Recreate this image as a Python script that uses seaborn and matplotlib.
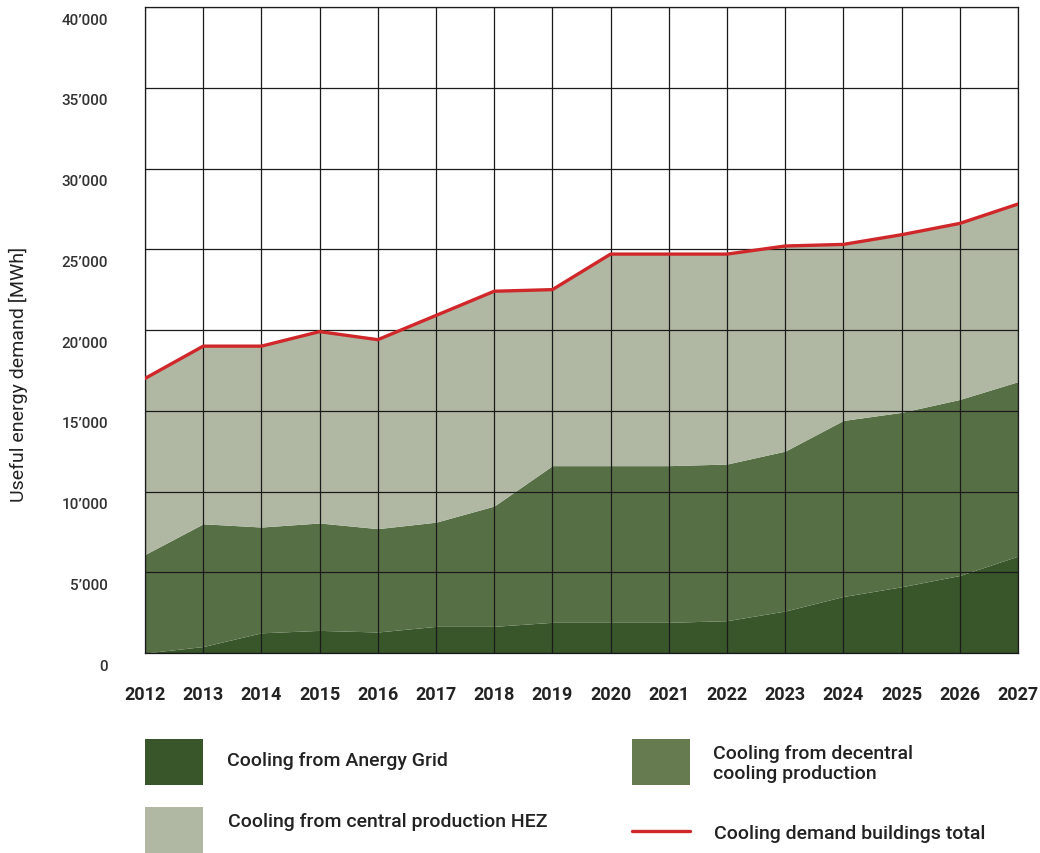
import matplotlib
matplotlib.use("Agg")
import matplotlib.pyplot as plt
from matplotlib.patches import Rectangle
from matplotlib.lines import Line2D
import matplotlib.transforms as mtransforms
import seaborn as sns
import pandas as pd

# data (MWh)
years = list(range(2012, 2028))
anergy = [0, 400, 1250, 1400, 1300, 1650, 1650, 1900, 1900, 1900, 2000, 2600, 3500, 4100, 4800, 6000]
decentral = [6100, 7600, 6550, 6650, 6400, 6450, 7450, 9700, 9700, 9700, 9700, 9900, 10900, 10800, 10900, 10800]
hez = [10900, 11000, 11200, 11850, 11700, 12800, 13300, 10900, 13100, 13100, 13000, 12700, 10900, 11000, 10900, 11000]
yticks = [0, 5000, 10000, 15000, 20000, 25000, 30000, 35000, 40000]
ytick_labels = ["0", "5’000", "10’000", "15’000", "20’000", "25’000", "30’000", "35’000", "40’000"]

df = pd.DataFrame({"year": years, "anergy": anergy, "decentral": decentral, "hez": hez})
df["total"] = df["anergy"] + df["decentral"] + df["hez"]

c_anergy = "#38562a"
c_decentral = "#576f45"
c_decentral_leg = "#677b51"
c_hez = "#b0b8a3"
c_red = "#d0282a"
c_grid = "#1a1a1a"

sns.set_theme(style="white")
plt.rcParams["font.family"] = ["Roboto", "DejaVu Sans"]

fig = plt.figure(figsize=(10.4, 8.54), dpi=100)
W, H = 1040, 854
ax = fig.add_axes([145 / W, 1 - 654 / H, (1018 - 145) / W, (654 - 8) / H])

ax.stackplot(df["year"], df["anergy"], df["decentral"], df["hez"],
             colors=[c_anergy, c_decentral, c_hez], linewidth=0, zorder=1)
sns.lineplot(data=df, x="year", y="total", color=c_red, linewidth=2.4, ax=ax, zorder=4)

ax.set_xlim(2012, 2027)
ax.set_ylim(0, 40000)
ax.set_xticks(years)
ax.set_xticklabels([str(y) for y in years], fontsize=13, fontweight="bold", color="#222222")
ax.set_yticks(yticks)
ax.set_yticklabels(ytick_labels, fontsize=11, fontweight="medium", color="#333333")

ax.grid(True, color=c_grid, linewidth=0.9, zorder=3)
ax.set_axisbelow(False)
for s in ax.spines.values():
    s.set_color(c_grid)
    s.set_linewidth(0.9)
    s.set_zorder(3)

ax.tick_params(axis="x", length=0, pad=23)
ax.tick_params(axis="y", length=21.5, width=0.9, color=c_grid, direction="out", pad=5)
offset = mtransforms.ScaledTranslation(0, -4 / 72, fig.dpi_scale_trans)
for lab in ax.get_yticklabels():
    lab.set_va("top")
    lab.set_transform(lab.get_transform() + offset)

ax.set_xlabel("")
ax.set_ylabel("")
fig.text(18 / W, 1 - 374 / H, "Useful energy demand [MWh]", rotation=90,
         ha="center", va="center", fontsize=14, color="#222222")

# legend drawn in figure pixel coordinates
def px(x, y):
    return x / W, 1 - y / H

def swatch(x0, y0, color):
    fx, fy = px(x0, y0 + 46)
    fig.add_artist(Rectangle((fx, fy), 58 / W, 46 / H, transform=fig.transFigure,
                             facecolor=color, edgecolor="none"))

swatch(145, 740, c_anergy)
swatch(632, 740, c_decentral_leg)
swatch(145, 808, c_hez)
fig.add_artist(Line2D([632 / W, 690 / W], [1 - 832 / H, 1 - 832 / H],
                      transform=fig.transFigure, color=c_red, linewidth=2.4))

leg_kw = dict(fontsize=14, color="#222222", va="center", ha="left", fontweight="medium")
fig.text(*px(227, 761), "Cooling from Anergy Grid", **leg_kw)
fig.text(*px(713, 764), "Cooling from decentral\ncooling production", linespacing=1.2, **leg_kw)
fig.text(*px(228, 822), "Cooling from central production HEZ", **leg_kw)
fig.text(*px(714, 834), "Cooling demand buildings total", **leg_kw)

fig.savefig("out.png", dpi=100)
